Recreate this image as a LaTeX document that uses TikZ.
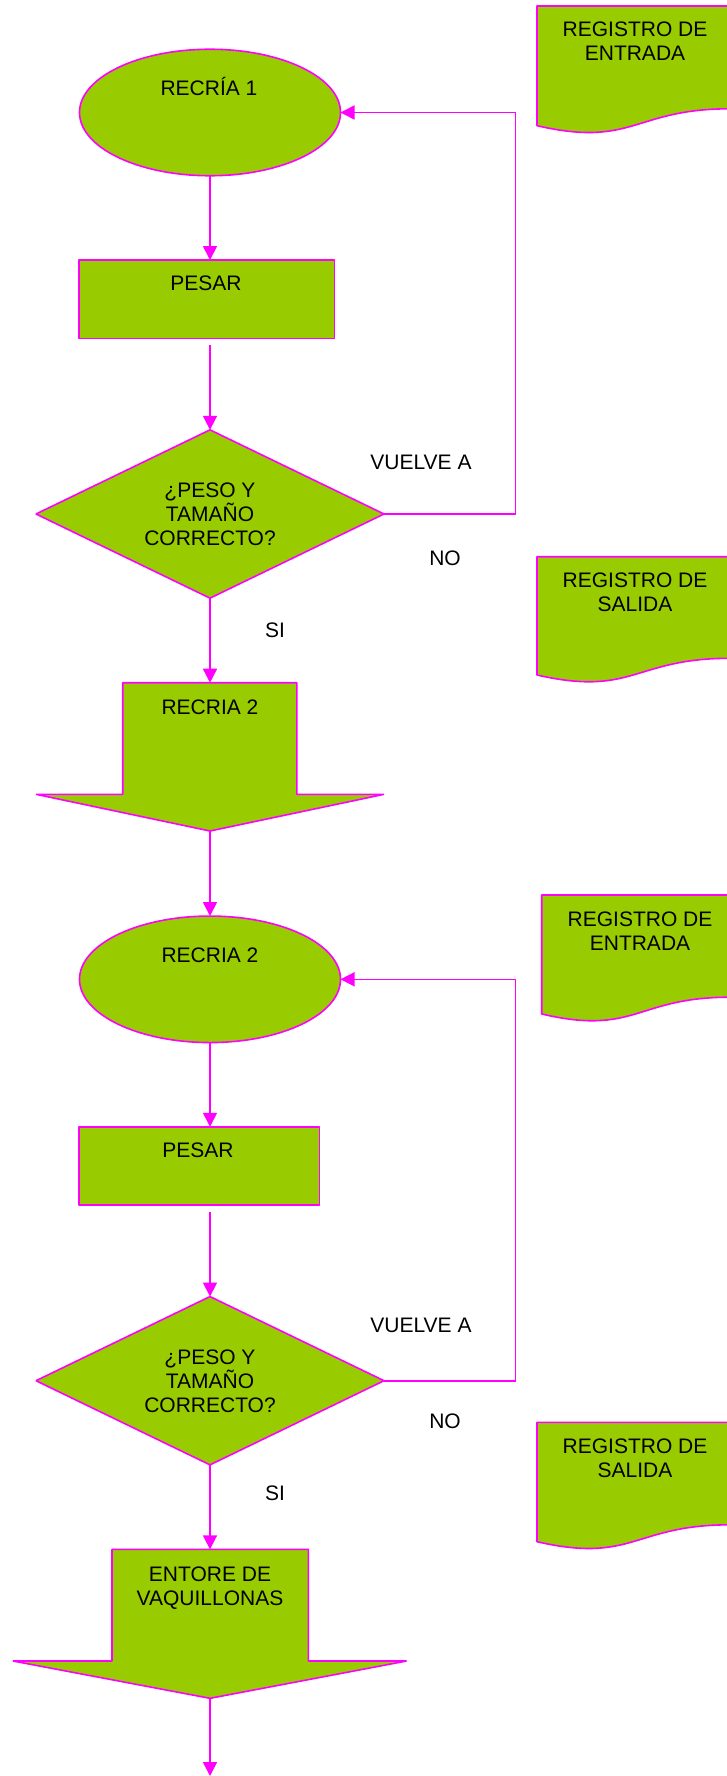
\documentclass[tikz,border=0pt]{standalone}
\usepackage{fontspec}
\setmainfont{Liberation Sans}
\usetikzlibrary{shapes.geometric,arrows.meta}
\definecolor{fillg}{HTML}{99CC00}
\definecolor{mag}{HTML}{FF00FF}
\newcommand{\ts}{\rule{0pt}{20pt}}
\begin{document}
\begin{tikzpicture}[x=1pt,y=-1pt,
  shp/.style={draw=mag, fill=fillg, line width=1.6pt, line join=bevel, inner sep=0pt, outer sep=0pt},
  oval/.style={shp, ellipse, minimum width=261pt, minimum height=126.5pt},
  box/.style={shp, rectangle, minimum height=78.3pt},
  dia/.style={shp, diamond, minimum width=348pt, minimum height=168.3pt},
  hold/.style={rectangle, inner sep=0pt, outer sep=0pt},
  conn/.style={draw=mag, line width=1.6pt, -{Triangle[length=14pt,width=14pt]}},
  txt/.style={font=\fontsize{21}{24}\selectfont, align=center, inner sep=0pt, anchor=north, text=black},
]
\fill[white] (0,0) rectangle (726,1776);
\useasboundingbox (0,0) rectangle (726,1776);

% documents
\draw[shp] (537,6) -- (730,6) -- (730,108.8) .. controls (633.5,108.8) and (633.5,147.9) .. (537,125.7) -- cycle;
\draw[shp] (537,556.7) -- (730,556.7) -- (730,658.3) .. controls (633.5,658.3) and (633.5,697) .. (537,675) -- cycle;
\draw[shp] (541.7,895) -- (730,895) -- (730,997.2) .. controls (635.9,997.2) and (635.9,1036) .. (541.7,1014) -- cycle;
\draw[shp] (537,1422.3) -- (730,1422.3) -- (730,1524.8) .. controls (633.5,1524.8) and (633.5,1563.8) .. (537,1541.7) -- cycle;

% main shapes
\node[oval] (e1) at (210,112.5) {};
\node[box, minimum width=255.6pt] (p1) at (206.5,299.2) {};
\node[dia] (d1) at (210,514) {};
\draw[shp] (122.7,682.7) -- (296.8,682.7) -- (296.8,794.3) -- (384,794.3) -- (210,831) -- (36,794.3) -- (122.7,794.3) -- cycle;
\node[hold, minimum width=174.1pt, minimum height=111.6pt] (b1) at (209.75,738.5) {};
\coordinate (b1tip) at (210,831);
\node[oval] (e2) at (210,979.3) {};
\node[box, minimum width=240.8pt] (p2) at (199.1,1165.9) {};
\node[dia] (d2) at (210,1380.7) {};
\draw[shp] (112,1549.3) -- (308.4,1549.3) -- (308.4,1661) -- (406.5,1661) -- (210,1698.3) -- (13,1661) -- (112,1661) -- cycle;
\node[hold, minimum width=196.4pt, minimum height=111.7pt] (b2) at (210.2,1605.2) {};
\coordinate (b2tip) at (210,1698.3);
\coordinate (end) at (210,1776);
\coordinate (fb1) at (515.3,514);
\coordinate (fb2) at (515.3,1380.7);

% connectors
\draw[conn] (e1.south) -- (e1.south |- p1.north);
\draw[conn, shorten <=7pt] (p1.south -| d1.north) -- (d1.north);
\draw[conn] (d1.south) -- (d1.south |- b1.north);
\draw[conn] (b1tip) -- (e2.north);
\draw[conn] (e2.south) -- (e2.south |- p2.north);
\draw[conn, shorten <=6.7pt] (p2.south -| d2.north) -- (d2.north);
\draw[conn] (d2.south) -- (d2.south |- b2.north);
\draw[conn] (b2tip) -- (end);
\draw[conn] (d1.east) -- (fb1) |- (e1.east);
\draw[conn] (d2.east) -- (fb2) |- (e2.east);

% texts
\node[txt] (t1) at (209,75.5) {\ts RECRÍA 1};
\node[txt] (t2) at (206,270.8) {\ts PESAR};
\node[txt] (t3) at (210,477.5) {\ts ¿PESO Y\\TAMAÑO\\CORRECTO?};
\node[txt] (t4) at (421,449) {\ts VUELVE A};
\node[txt] (t5) at (445,544.8) {\ts NO};
\node[txt] (t6) at (275,616.8) {\ts SI};
\node[txt] (t7) at (210,694) {\ts RECRIA 2};
\node[txt] (t8) at (635,16.8) {\ts REGISTRO DE\\ENTRADA};
\node[txt] (t9) at (635,567.5) {\ts REGISTRO DE\\SALIDA};
\node[txt] (t10) at (210,942.5) {\ts RECRIA 2};
\node[txt] (t11) at (640,905.8) {\ts REGISTRO DE\\ENTRADA};
\node[txt] (t12) at (198,1137.5) {\ts PESAR};
\node[txt] (t13) at (421,1311.8) {\ts VUELVE A};
\node[txt] (t14) at (210,1344) {\ts ¿PESO Y\\TAMAÑO\\CORRECTO?};
\node[txt] (t15) at (445,1408) {\ts NO};
\node[txt] (t16) at (275,1480) {\ts SI};
\node[txt] (t17) at (210,1560.8) {\ts ENTORE DE\\VAQUILLONAS};
\node[txt] (t18) at (635,1433.5) {\ts REGISTRO DE\\SALIDA};
\end{tikzpicture}
\end{document}
